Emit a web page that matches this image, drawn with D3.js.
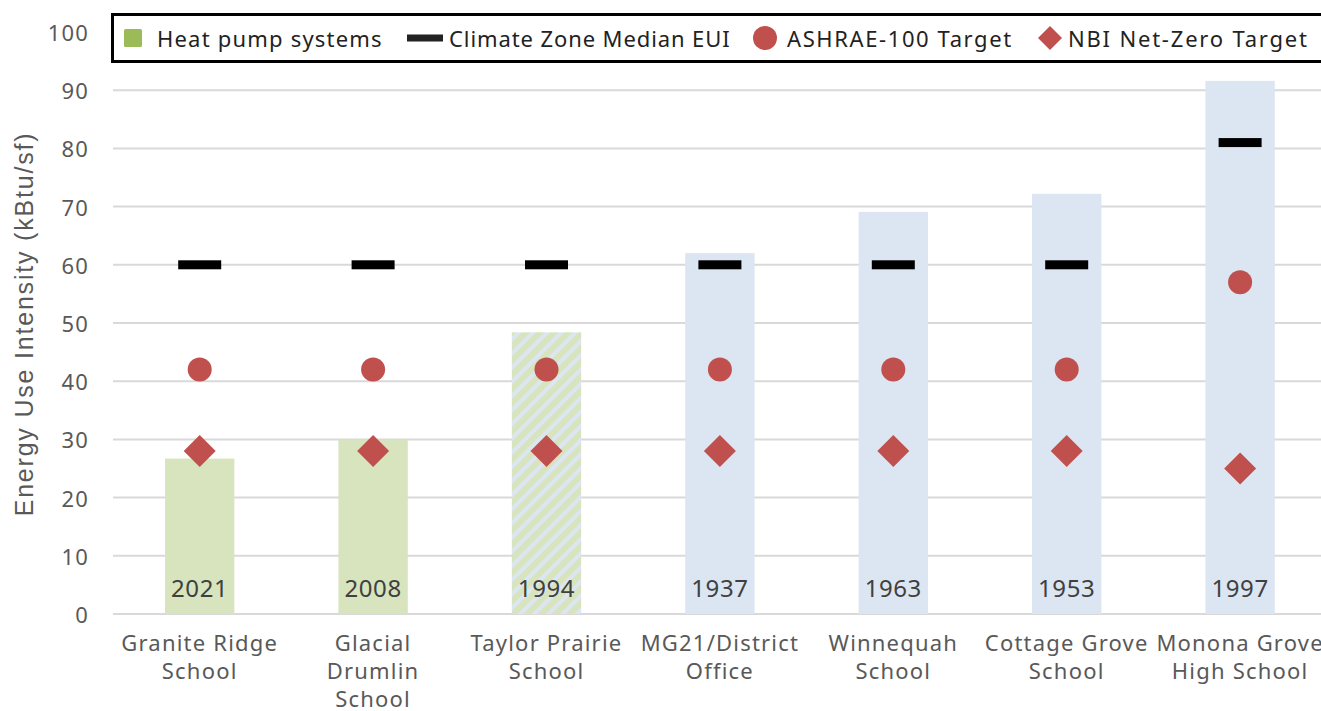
<!DOCTYPE html>
<html>
<head>
<meta charset="utf-8">
<script src="https://cdn.jsdelivr.net/npm/d3@7"></script>
<style>
  body { margin: 0; background: #fff; }
  svg { display: block; font-family: "Noto Sans", "Open Sans", sans-serif; }
</style>
</head>
<body>
<div id="chart"></div>
<script>
// Data
var schools = ["Granite Ridge|School", "Glacial|Drumlin|School", "Taylor Prairie|School",
  "MG21/District|Office", "Winnequah|School", "Cottage Grove|School", "Monona Grove|High School"];
var years = ["2021", "2008", "1994", "1937", "1963", "1953", "1997"];
var eui = [26.7, 29.9, 48.4, 62, 69.1, 72.2, 91.6];
var system = ["hp", "hp", "mixed", "other", "other", "other", "other"];
var median = [60, 60, 60, 60, 60, 60, 81];
var ashrae = [42, 42, 42, 42, 42, 42, 57];
var nbi = [28, 28, 28, 28, 28, 28, 25];
var yTicks = [0, 10, 20, 30, 40, 50, 60, 70, 80, 90, 100];

var svgWidth = 1321, svgHeight = 711;
var margin = { top: 32, left: 113, bottom: 97 };

var svg = d3.select("#chart").append("svg")
  .attr("width", svgWidth)
  .attr("height", svgHeight);

// hatch pattern for mixed system
var defs = svg.append("defs");
var pat = defs.append("pattern")
  .attr("id", "hatch")
  .attr("patternUnits", "userSpaceOnUse")
  .attr("width", 10).attr("height", 10)
  .attr("patternTransform", "rotate(45)");
pat.append("rect").attr("width", 10).attr("height", 10).attr("fill", "#d7e4bd");
pat.append("rect").attr("width", 4).attr("height", 10).attr("fill", "#dce6f2");

var x = d3.scaleBand()
  .domain(schools)
  .range([margin.left, margin.left + 7 * 173.4])
  .paddingInner(0.6)
  .paddingOuter(0.3);

var y = d3.scaleLinear()
  .domain([0, 100])
  .range([614, 32]);

var cx = function (i) { return x(schools[i]) + x.bandwidth() / 2; };

// gridlines
svg.append("g")
  .selectAll("line")
  .data(yTicks)
  .enter().append("line")
  .attr("x1", margin.left).attr("x2", svgWidth)
  .attr("y1", d => y(d)).attr("y2", d => y(d))
  .attr("stroke", "#d9d9d9")
  .attr("stroke-width", 2);

// tick labels
svg.append("g")
  .selectAll("text")
  .data(yTicks)
  .enter().append("text")
  .attr("x", 89)
  .attr("y", d => y(d))
  .attr("text-anchor", "end")
  .attr("dominant-baseline", "central")
  .attr("fill", "#595959")
  .attr("font-size", 22)
  .attr("letter-spacing", 1.2)
  .text(d => d);

// axis title
svg.append("text")
  .attr("transform", "translate(33,324) rotate(-90)")
  .attr("text-anchor", "middle")
  .attr("fill", "#595959")
  .attr("font-family", "'Liberation Sans', Arial, sans-serif")
  .attr("font-size", 25)
  .attr("letter-spacing", 1.8)
  .text("Energy Use Intensity (kBtu/sf)");

// bars
var barColor = { hp: "#d7e4bd", mixed: "url(#hatch)", other: "#dce6f2" };
svg.append("g")
  .selectAll("rect")
  .data(eui)
  .enter().append("rect")
  .attr("x", (d, i) => x(schools[i]))
  .attr("y", d => y(d))
  .attr("width", x.bandwidth())
  .attr("height", d => y(0) - y(d))
  .attr("fill", (d, i) => barColor[system[i]]);

// year labels inside bars
svg.append("g")
  .selectAll("text")
  .data(years)
  .enter().append("text")
  .attr("x", (d, i) => cx(i))
  .attr("y", y(0) - 27)
  .attr("text-anchor", "middle")
  .attr("dominant-baseline", "central")
  .attr("fill", "#404040")
  .attr("font-size", 24)
  .attr("letter-spacing", 0.6)
  .text(d => d);

// category labels
var cat = svg.append("g")
  .selectAll("text")
  .data(schools)
  .enter().append("text")
  .attr("x", d => x(d) + x.bandwidth() / 2)
  .attr("y", 651)
  .attr("text-anchor", "middle")
  .attr("fill", "#595959")
  .attr("font-size", 22)
  .attr("letter-spacing", 1.2);
cat.selectAll("tspan")
  .data(d => d.split("|"))
  .enter().append("tspan")
  .attr("x", function () { return d3.select(this.parentNode).attr("x"); })
  .attr("dy", (d, i) => i === 0 ? 0 : 28)
  .text(d => d);

// median markers
svg.append("g")
  .selectAll("rect")
  .data(median)
  .enter().append("rect")
  .attr("x", (d, i) => cx(i) - 21.5)
  .attr("y", d => y(d) - 4.5)
  .attr("width", 43)
  .attr("height", 9)
  .attr("fill", "#000");

// ASHRAE circles
svg.append("g")
  .selectAll("circle")
  .data(ashrae)
  .enter().append("circle")
  .attr("cx", (d, i) => cx(i))
  .attr("cy", d => y(d))
  .attr("r", 12)
  .attr("fill", "#c0504d");

// NBI diamonds
var diamond = d3.symbol().type(d3.symbolSquare).size(16 * 16 * 2);
svg.append("g")
  .selectAll("path")
  .data(nbi)
  .enter().append("path")
  .attr("d", diamond)
  .attr("transform", (d, i) => "translate(" + cx(i) + "," + y(d) + ") rotate(45)")
  .attr("fill", "#c0504d");

// Legend
var lg = svg.append("g");
lg.append("rect")
  .attr("x", 112.5).attr("y", 14.5)
  .attr("width", 1260).attr("height", 47)
  .attr("fill", "#fff")
  .attr("stroke", "#000")
  .attr("stroke-width", 3);

var ly = 38;
lg.append("rect").attr("x", 124).attr("y", ly - 9).attr("width", 18).attr("height", 18)
  .attr("rx", 1.5).attr("fill", "#9bbb59");
lg.append("rect").attr("x", 407).attr("y", ly - 3.5).attr("width", 36).attr("height", 7)
  .attr("fill", "#222");
lg.append("circle").attr("cx", 765).attr("cy", ly).attr("r", 12).attr("fill", "#c0504d");
lg.append("path").attr("d", diamond)
  .attr("transform", "translate(1050," + ly + ") rotate(45) scale(0.75)")
  .attr("fill", "#c0504d");

var legendText = [
  { t: "Heat pump systems", x: 157, ls: 1.2 },
  { t: "Climate Zone Median EUI", x: 449, ls: 0.9 },
  { t: "ASHRAE-100 Target", x: 787, ls: 1.6 },
  { t: "NBI Net-Zero Target", x: 1068, ls: 1.8 }
];
lg.selectAll("text.lt")
  .data(legendText)
  .enter().append("text")
  .attr("class", "lt")
  .attr("x", d => d.x)
  .attr("y", ly)
  .attr("dominant-baseline", "central")
  .attr("fill", "#222")
  .attr("font-size", 22)
  .attr("letter-spacing", d => d.ls)
  .text(d => d.t);
</script>
</body>
</html>
